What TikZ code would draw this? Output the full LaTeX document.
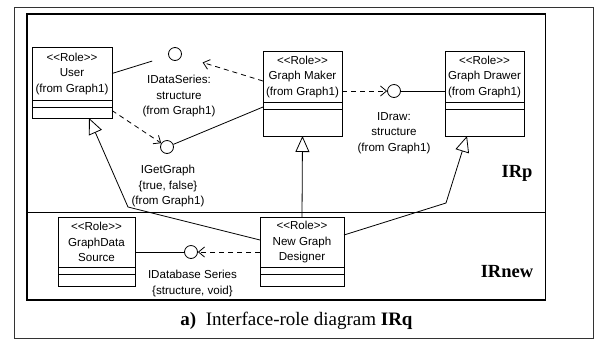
\documentclass[tikz,border=0pt]{standalone}
\usepackage{fontspec}
\setmainfont{Liberation Serif}
\newfontfamily\umlfont{Liberation Sans}
\usetikzlibrary{arrows.meta,positioning}

\begin{document}
\begin{tikzpicture}[x=1pt,y=-1pt,
  umltext/.style={font=\umlfont\fontsize{11.6}{15.5}\selectfont, align=center},
  rolehead/.style={draw, line width=0.9pt, fill=white, umltext, inner sep=0pt,
    outer sep=0pt, anchor=north west},
  rolepart/.style={draw, line width=0.9pt, fill=white, inner sep=0pt, outer sep=0pt,
    below=0pt of #1},
  iface/.style={circle, draw, fill=white, minimum size=13, inner sep=0pt, line width=0.8pt},
  assoc/.style={draw, line width=0.8pt},
  dep/.style={draw, line width=0.8pt, dash pattern=on 5pt off 4pt,
    -{Straight Barb[length=6pt, width=10pt]}},
  gen/.style={draw, line width=0.8pt, -{Triangle[open, length=16pt, width=14pt]}},
  region/.style={font=\bfseries\fontsize{18.5}{20}\selectfont}
]
\useasboundingbox (0,0) rectangle (599,341);

% frames
\draw[gray!40!black, line width=0.9pt] (14,7) rectangle (593,338.5);
\draw[line width=1.2pt] (27,14) rectangle (545.5,300);
\draw[line width=1.8pt] (27,212.5) -- (545.5,212.5);

% role classes
\node[rolehead, minimum width=80, minimum height=53] (user) at (32,47)
  {<<Role>>\\User\\(from Graph1)};
\node[rolepart=user, minimum width=80, minimum height=7] (user-a) {};
\node[rolepart=user-a, minimum width=80, minimum height=11] (user-o) {};

\node[rolehead, minimum width=79, minimum height=51] (gm) at (263,51)
  {<<Role>>\\Graph Maker\\(from Graph1)};
\node[rolepart=gm, minimum width=79, minimum height=7] (gm-a) {};
\node[rolepart=gm-a, minimum width=79, minimum height=27] (gm-o) {};

\node[rolehead, minimum width=79, minimum height=51] (gd) at (445,51)
  {<<Role>>\\Graph Drawer\\(from Graph1)};
\node[rolepart=gd, minimum width=79, minimum height=7] (gd-a) {};
\node[rolepart=gd-a, minimum width=79, minimum height=27] (gd-o) {};

\node[rolehead, minimum width=77, minimum height=50] (gds) at (58,217)
  {<<Role>>\\GraphData\\Source};
\node[rolepart=gds, minimum width=77, minimum height=7] (gds-a) {};
\node[rolepart=gds-a, minimum width=77, minimum height=12] (gds-o) {};

\node[rolehead, minimum width=84, minimum height=50] (ngd) at (260,217)
  {<<Role>>\\New Graph\\Designer};
\node[rolepart=ngd, minimum width=84, minimum height=7] (ngd-a) {};
\node[rolepart=ngd-a, minimum width=84, minimum height=12] (ngd-o) {};

% interfaces
\node[iface] (ids) at (175,54) {};
\node[iface] (igg) at (167,147) {};
\node[iface] (idr) at (394,91) {};
\node[iface] (idb) at (191,252) {};

\node[umltext] (ids-l) at (179,96) {IDataSeries:\\structure\\(from Graph1)};
\node[umltext] (igg-l) at (168,186) {IGetGraph\\\{true, false\}\\(from Graph1)};
\node[umltext] (idr-l) at (394,133) {IDraw:\\structure\\(from Graph1)};
\node[umltext] (idb-l) at (192.5,283.5) {IDatabase Series\\\{structure, void\}};

% bends of the generalisations
\coordinate (bendA) at (128,207);
\coordinate (bendB) at (446,203);

% connectors
\draw[assoc, shorten >=17pt] (user.east) -- (ids);
\draw[dep, shorten >=22pt] ([yshift=-4.5pt]gm.west) -- (ids);
\draw[dep] ([yshift=2pt]user-o.east) -- (igg);
\draw[assoc] ([yshift=-1.5pt]gm-a.west) -- (igg);
\draw[dep] (gm.east |- idr) -- (idr);
\draw[assoc] (idr) -- (gd.west |- idr);
\draw[assoc] (gds.east |- idb) -- (idb);
\draw[dep] (ngd.west |- idb) -- (idb);

\draw[gen] ([yshift=2pt]ngd.west) -- (bendA) -- ([xshift=17pt]user-o.south);
\draw[gen] (ngd.north) -- (gm-o.south);
\draw[gen] ([yshift=7pt]ngd.east) -- (bendB) -- ([xshift=-17.5pt]gd-o.south);

% region names and caption
\node[region] (irp) at (517,173) {IRp};
\node[region] (irnew) at (507,272) {IRnew};
\node[font=\fontsize{19}{22}\selectfont, anchor=base] (caption) at (296.5,325)
  {\textbf{a)}\ \ Interface-role diagram \textbf{IRq}};
\end{tikzpicture}
\end{document}
